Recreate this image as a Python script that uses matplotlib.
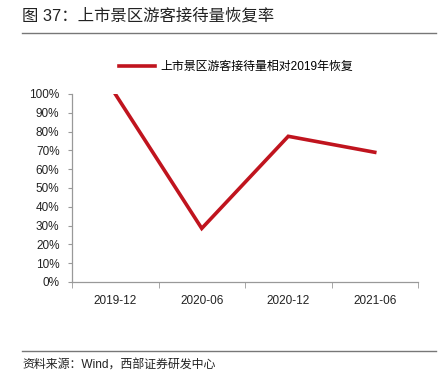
import matplotlib
matplotlib.use("Agg")
import matplotlib.pyplot as plt
from matplotlib.ticker import PercentFormatter, FixedLocator
from matplotlib.lines import Line2D

categories = ["2019-12", "2020-06", "2020-12", "2021-06"]
values = [100, 28.5, 77.5, 69]
series_name = "上市景区游客接待量相对2019年恢复"
title = "图 37：上市景区游客接待量恢复率"
source = "资料来源：Wind，西部证券研发中心"

fam = ["Liberation Sans", "Noto Sans CJK SC", "DejaVu Sans"]
plt.rcParams["font.family"] = fam

W, H = 442, 386
fig = plt.figure(figsize=(W / 100, H / 100), dpi=100)

ax = fig.add_axes([72 / W, 1 - 282 / H, (418 - 72) / W, (282 - 94) / H])
x = list(range(len(categories)))
ax.plot(x, values, color="#C0141E", lw=2.6, solid_joinstyle="miter")
ax.set_xlim(-0.5, len(categories) - 0.5)
ax.set_ylim(0, 100)
ax.set_yticks(range(0, 101, 10))
ax.yaxis.set_major_formatter(PercentFormatter(decimals=0))
ax.set_xticks(x)
ax.set_xticklabels(categories)
ax.xaxis.set_major_locator(FixedLocator(x))
ax.xaxis.set_minor_locator(FixedLocator([i - 0.5 for i in range(len(categories) + 1)]))
ax.tick_params(axis="x", which="major", length=0, pad=9, labelsize=8.5, colors="#222222")
ax.tick_params(axis="x", which="minor", length=4, color="#999999", direction="out")
ax.tick_params(axis="y", length=3, color="#999999", labelsize=8.5, colors="#222222", pad=6)
for s in ["top", "right"]:
    ax.spines[s].set_visible(False)
for s in ["left", "bottom"]:
    ax.spines[s].set_color("#999999")
    ax.spines[s].set_linewidth(0.9)

handle = Line2D([], [], color="#C0141E", lw=2.6)
fig.legend([handle], [series_name], loc="center", bbox_to_anchor=(236 / W, 1 - 67 / H),
           frameon=False, fontsize=8.6, handlelength=3.0, handletextpad=0.5)

fig.text(22 / W, 1 - 16 / H, title, fontsize=11.8, va="center", ha="left", color="#222222")
fig.add_artist(Line2D([22 / W, 436 / W], [1 - 33 / H, 1 - 33 / H], color="#777777", lw=1.0))
fig.add_artist(Line2D([22 / W, 436 / W], [1 - 351 / H, 1 - 351 / H], color="#777777", lw=1.0))
fig.text(22 / W, 1 - 366 / H, source, fontsize=8.6, va="center", ha="left", color="#222222")

fig.savefig("out.png", dpi=100)
